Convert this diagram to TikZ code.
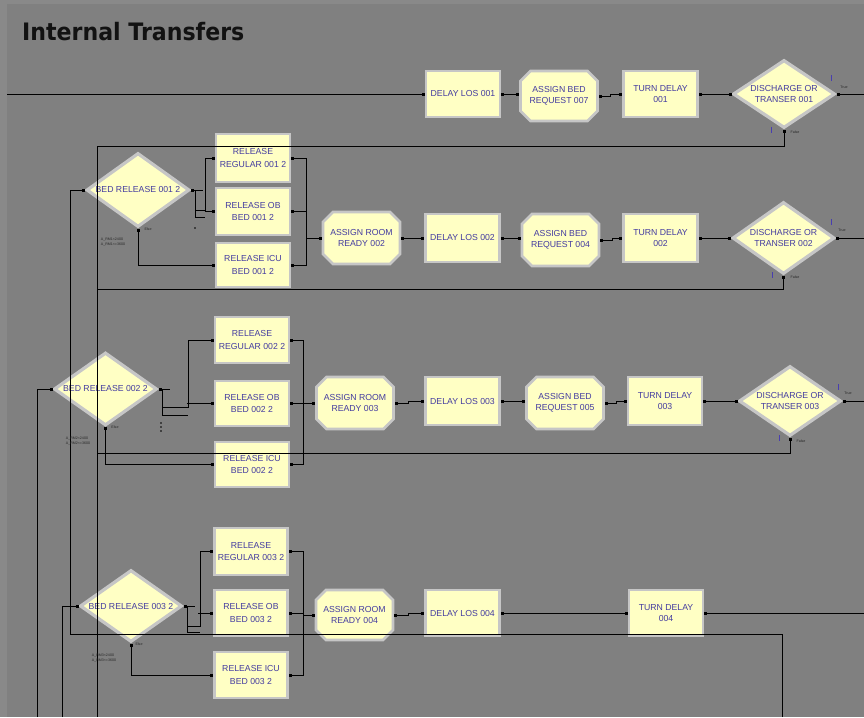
\documentclass[tikz,border=0pt]{standalone}
\usepackage{fontspec}
\newfontfamily\modfont{Liberation Sans}
\newfontfamily\titlefont{DejaVu Sans}
\usetikzlibrary{shapes.geometric,shapes.misc,arrows.meta}
\definecolor{bg}{RGB}{128,128,128}
\definecolor{bgedge}{RGB}{137,137,137}
\definecolor{modfill}{RGB}{255,255,196}
\definecolor{modframe}{RGB}{198,198,198}
\definecolor{modtext}{RGB}{68,60,160}
\definecolor{tickblue}{RGB}{72,62,176}
\definecolor{titletext}{RGB}{18,18,18}
\definecolor{smalltext}{RGB}{40,40,40}
\tikzset{
  mod/.style={draw=modframe, line width=2.6pt, fill=modfill, text=modtext,
    inner sep=0pt, align=center, font=\modfont\fontsize{8.7}{11}\selectfont},
  procbox/.style={mod, rectangle, minimum width=74pt, minimum height=48pt},
  relbox/.style={procbox, minimum height=46pt, font=\modfont\fontsize{8.7}{12.5}\selectfont},
  asgbox/.style={mod, chamfered rectangle, chamfered rectangle xsep=5pt,
    chamfered rectangle ysep=5pt, minimum width=77pt, minimum height=52pt,
    font=\modfont\fontsize{8.7}{10.5}\selectfont},
  decbox/.style={mod, diamond, aspect=1.4, minimum width=102pt, minimum height=72pt,
    line width=3.2pt, font=\modfont\fontsize{8.7}{10.5}\selectfont},
  ln/.style={draw=black, line width=0.9pt},
  cn/.style={ln, {Square[length=2.8pt,width=2.8pt]}-{Square[length=2.8pt,width=2.8pt]}},
  cs/.style={ln, {Square[length=2.8pt,width=2.8pt]}-},
  ce/.style={ln, -{Square[length=2.8pt,width=2.8pt]}},
  tinyt/.style={font=\modfont\fontsize{3.6}{4.6}\selectfont, text=smalltext, inner sep=0pt, align=left},
  tk/.style={draw=tickblue, line width=0.9pt},
}
\begin{document}
\begin{tikzpicture}[x=1pt,y=-1pt]
\useasboundingbox (0,0) rectangle (864,717);
% backdrop
\fill[bgedge] (0,0) rectangle (864,717);
\fill[bg] (7,4) rectangle (864,717);

\node[anchor=base west, inner sep=0pt, text=titletext] (title) at (22,41)
  {\titlefont\bfseries\fontsize{24}{28}\selectfont\scalebox{0.92}[1]{Internal Transfers}};

% ---- row 1 ----
\node[procbox, minimum height=46pt] (dl1) at (463,94) {DELAY LOS 001};
\node[asgbox, minimum height=50pt] (ab7) at (559,96) {ASSIGN BED\\REQUEST 007};
\node[procbox, minimum height=46pt] (td1) at (660.5,94) {TURN DELAY\\001};
\node[decbox, minimum height=68pt] (dc1) at (784,94) {DISCHARGE OR\\TRANSER 001};

% ---- row 2 ----
\node[asgbox] (arr2) at (361.5,238) {ASSIGN ROOM\\READY 002};
\node[procbox] (dl2) at (462.5,238) {DELAY LOS 002};
\node[asgbox] (ab4) at (560.5,240) {ASSIGN BED\\REQUEST 004};
\node[procbox] (td2) at (660.5,238) {TURN DELAY\\002};
\node[decbox] (dc2) at (783.5,238) {DISCHARGE OR\\TRANSER 002};

% ---- row 3 ----
\node[asgbox] (arr3) at (355,403) {ASSIGN ROOM\\READY 003};
\node[procbox] (dl3) at (462.5,401) {DELAY LOS 003};
\node[asgbox] (ab5) at (565,403) {ASSIGN BED\\REQUEST 005};
\node[procbox] (td3) at (665,401) {TURN DELAY\\003};
\node[decbox, minimum height=70pt] (dc3) at (790,401) {DISCHARGE OR\\TRANSER 003};

% ---- row 4 ----
\node[asgbox, minimum height=50pt] (arr4) at (354.5,615) {ASSIGN ROOM\\READY 004};
\node[procbox, minimum height=46pt] (dl4) at (462.5,613) {DELAY LOS 004};
\node[procbox, minimum height=46pt] (td4) at (666,613) {TURN DELAY\\004};

% ---- bed release group 1 ----
\node[decbox, minimum width=103pt, minimum height=74pt] (br1) at (138,190) {BED RELEASE 001 2};
\node[relbox, minimum height=48pt] (rr1) at (253,158) {RELEASE\\REGULAR 001 2};
\node[relbox, minimum height=47pt] (ro1) at (253,211.5) {RELEASE OB\\BED 001 2};
\node[relbox, minimum height=44pt] (ri1) at (253,265) {RELEASE ICU\\BED 001 2};

% ---- bed release group 2 ----
\node[decbox, minimum width=103pt, minimum height=73pt] (br2) at (105.5,389) {BED RELEASE 002 2};
\node[relbox] (rr2) at (252,340) {RELEASE\\REGULAR 002 2};
\node[relbox, minimum height=45pt] (ro2) at (252,403.5) {RELEASE OB\\BED 002 2};
\node[relbox, minimum height=45pt] (ri2) at (252,464.5) {RELEASE ICU\\BED 002 2};

% ---- bed release group 3 ----
\node[decbox] (br3) at (131,606) {BED RELEASE 003 2};
\node[relbox, minimum width=73pt, minimum height=47pt] (rr3) at (251,551.5) {RELEASE\\REGULAR 003 2};
\node[relbox, minimum width=73pt] (ro3) at (251,613) {RELEASE OB\\BED 003 2};
\node[relbox, minimum width=73pt] (ri3) at (251,675) {RELEASE ICU\\BED 003 2};

% junctions
\coordinate (in1) at (7,94);
\coordinate (j1) at (306,238);
\coordinate (j2) at (303,403);
\coordinate (j3) at (303,615);

% ---- row 1 connectors ----
\draw[ce] (in1) -- (dl1.west);
\draw[cn] (dl1.east) -- (dl1.east -| ab7.west);
\draw[cn] (ab7.east) -- ++(12,0) |- (td1.west);
\draw[cn] (td1.east) -- (dc1.west);
\draw[cs] (dc1.east) -- ++(40,0);
\draw[cs] (dc1.south) |- (97,146) -- (97,717);

% ---- row 2 connectors ----
\draw[ce] (j1) -- (arr2.west);
\draw[cn] (arr2.east) -- (dl2.west);
\draw[cn] (dl2.east) -- (dl2.east -| ab4.west);
\draw[cn] (ab4.east) -- ++(12,0) |- (td2.west);
\draw[cn] (td2.east) -- (dc2.west);
\draw[cs] (dc2.east) -- ++(40,0);
\draw[cs] (dc2.south) |- (97,289);

% ---- row 3 connectors ----
\draw[ce] (j2) -- (arr3.west);
\draw[cn] (arr3.east) -- ++(14,0) |- (dl3.west);
\draw[cn] (dl3.east) -- (dl3.east -| ab5.west);
\draw[cn] (ab5.east) -- ++(12,0) |- (td3.west);
\draw[cn] (td3.east) -- (dc3.west);
\draw[cs] (dc3.east) -- ++(40,0);
\draw[cs] (dc3.south) |- (97,453);

% ---- row 4 connectors ----
\draw[ce] (j3) -- (arr4.west);
\draw[cn] (arr4.east) -- ++(14,0) |- (dl4.west);
\draw[cn] (dl4.east) -- (td4.west);
\draw[cs] (td4.east) -- ++(220,0);

% ---- group 1 connectors ----
\draw[ce] (782,717) |- (70,634) |- (br1.west);
\draw[cs] (br1.east) -- ++(12,0);
\draw[ln] (195,190) |- (205,217);
\draw[ce] (195,210) -- (205,210) |- (rr1.west);
\draw[ce] ([xshift=-10pt]ro1.west) -- (ro1.west);
\draw[cn] (br1.south) |- (ri1.west);
\draw[cs] (rr1.east) -| (j1);
\draw[cs] (ro1.east) -| (j1);
\draw[cs] (ri1.east) -| (j1);
\fill (195,228) circle (0.8);

% ---- group 2 connectors ----
\draw[ce] (37,717) |- (br2.west);
\draw[cs] (br2.east) -- ++(11,0);
\draw[ln] (162,389) |- (188,415);
\draw[ce] (162,407) -- (188,407) |- (rr2.west);
\draw[ce] ([xshift=-27pt]ro2.west) -- (ro2.west);
\draw[cn] (br2.south) |- (ri2.west);
\draw[cs] (rr2.east) -| (j2);
\draw[cs] (ro2.east) -| (j2);
\draw[cs] (ri2.east) -| (j2);
\foreach \yy in {423,427,431} \fill (161,\yy) circle (0.8);

% ---- group 3 connectors ----
\draw[ce] (62,717) |- (br3.west);
\draw[cs] (br3.east) -- ++(11,0);
\draw[ln] (187,606) |- (200,632);
\draw[ce] (187,626) -- (200,626) |- (rr3.west);
\draw[ce] ([xshift=-15pt]ro3.west) -- (ro3.west);
\draw[cn] (br3.south) |- (ri3.west);
\draw[cs] (rr3.east) -| (j3);
\draw[cs] (ro3.east) -| (j3);
\draw[cs] (ri3.east) -| (j3);

% ---- small decide labels ----
\node[tinyt] (tr1) at (844,87) {True};
\node[tinyt] (fa1) at (795,132) {False};
\node[tinyt] (tr2) at (842,230) {True};
\node[tinyt] (fa2) at (795,277) {False};
\node[tinyt] (tr3) at (848,393) {True};
\node[tinyt] (fa3) at (801,441) {False};
\node[tinyt] (el1) at (148,229) {Else};
\node[tinyt] (el2) at (115,427) {Else};
\node[tinyt] (el3) at (139,644) {Else};
\node[tinyt] (cd1) at (113,242) {A\_RM1<2400\\A\_RM1<=3600};
\node[tinyt] (cd2) at (78,441) {A\_RM2<2400\\A\_RM2<=3600};
\node[tinyt] (cd3) at (104,658) {A\_RM3<2400\\A\_RM3<=3600};

% blue markers beside the decide modules
\draw[tk] (831,75) -- (831,81);
\draw[tk] (771,127) -- (771,133);
\draw[tk] (831,219) -- (831,225);
\draw[tk] (772,272) -- (772,278);
\draw[tk] (838,384) -- (838,390);
\draw[tk] (779,435) -- (779,441);
\end{tikzpicture}
\end{document}
